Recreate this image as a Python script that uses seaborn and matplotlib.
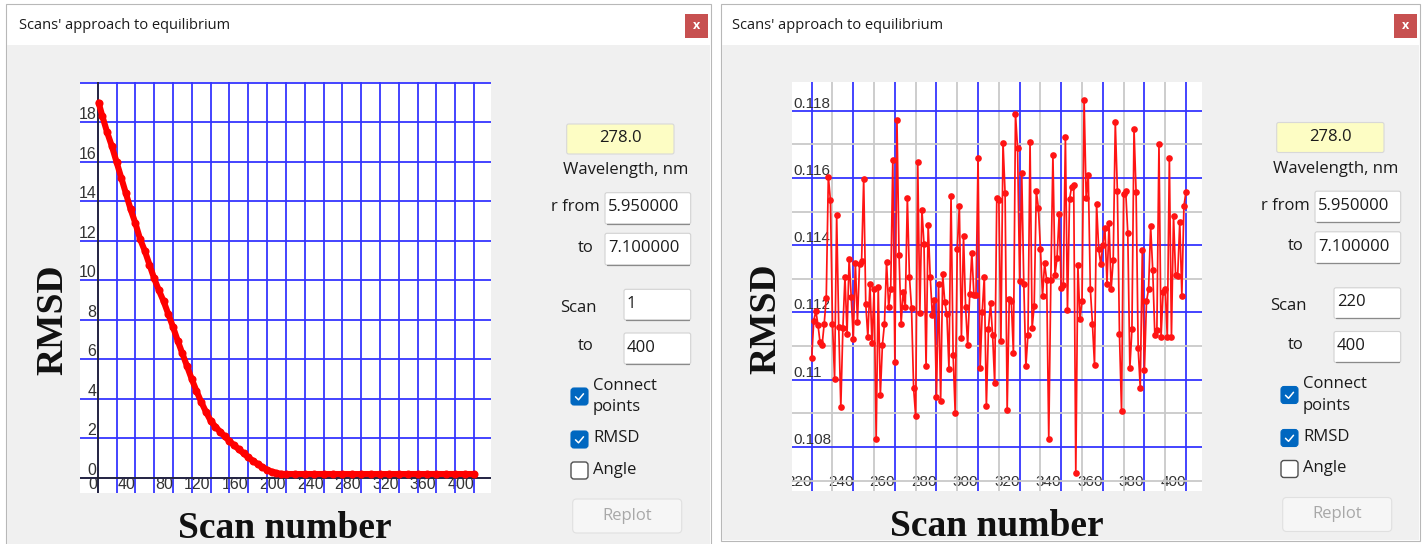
import matplotlib
matplotlib.use("Agg")
import matplotlib.pyplot as plt
from matplotlib.patches import Rectangle, FancyBboxPatch
from matplotlib.lines import Line2D
from matplotlib.transforms import Affine2D
from matplotlib.ticker import FixedLocator
import seaborn as sns

# ---------------- data ----------------
# Left window: scans 1..400
left_scans = [1, 5, 10, 15, 20, 25, 30, 35, 40, 45, 50, 55, 60, 65, 70, 75, 80, 85, 90, 95,
              100, 105, 110, 115, 120, 125, 130, 135, 140, 145, 150, 155, 160, 165, 170, 175,
              180, 185, 190, 195, 200, 210, 220, 230, 240, 250, 260, 270, 280, 290, 300, 310,
              320, 330, 340, 350, 360, 370, 380, 390, 400]
left_rmsd = [19.0, 18.3, 17.5, 16.8, 16.0, 15.2, 14.4, 13.6, 12.9, 12.1, 11.5, 10.8, 10.1, 9.5,
             8.95, 8.3, 7.65, 6.95, 6.3, 5.65, 5.0, 4.4, 3.85, 3.35, 2.9, 2.6, 2.35, 2.1, 1.87,
             1.65, 1.45, 1.25, 1.05, 0.87, 0.7, 0.55, 0.42, 0.32, 0.25, 0.21, 0.2,
             0.2, 0.2, 0.2, 0.2, 0.2, 0.2, 0.2, 0.2, 0.2, 0.2, 0.2, 0.2, 0.2, 0.2, 0.2, 0.2,
             0.2, 0.2, 0.2, 0.2]
left_xticks = [0, 40, 80, 120, 160, 200, 240, 280, 320, 360, 400]
left_xgrid = [20, 60, 100, 140, 180, 220, 260, 300, 340, 380]
left_yticks = [0, 2, 4, 6, 8, 10, 12, 14, 16, 18]
left_ygrid = [20]

# Right window: scans 220..400
right_scans = list(range(220, 401))
right_rmsd = [
    0.11065, 0.11176, 0.11204, 0.11164, 0.11112, 0.11103, 0.11166, 0.11244, 0.11604, 0.11534,
    0.11167, 0.11003, 0.11490, 0.11157, 0.10919, 0.11155, 0.11306, 0.11137, 0.11360, 0.11246,
    0.11122, 0.11346, 0.11172, 0.11344, 0.11354, 0.11596, 0.11225, 0.11127, 0.11284, 0.11108,
    0.11269, 0.10825, 0.11276, 0.10954, 0.11103, 0.11167, 0.11351, 0.11217, 0.11271, 0.11653,
    0.11053, 0.11772,
    0.11370, 0.11167, 0.11261, 0.11217, 0.11541, 0.11306, 0.11214, 0.10976, 0.10891, 0.11646,
    0.11199, 0.11506, 0.11403, 0.11040, 0.11460, 0.11306, 0.11192, 0.11237, 0.10949, 0.11284,
    0.10936, 0.11313, 0.11231, 0.11194, 0.11033, 0.11546, 0.11075, 0.10902, 0.11390, 0.11517,
    0.11125, 0.11428, 0.11217, 0.11103, 0.11256, 0.11377, 0.11253, 0.11251, 0.11660, 0.11035,
    0.11202, 0.11306, 0.10921, 0.11152, 0.11227, 0.11133, 0.10989, 0.11541,
    0.11534, 0.11114, 0.11705, 0.11554, 0.10909, 0.11241, 0.11233, 0.11078, 0.11790, 0.11688,
    0.11293, 0.11615, 0.11284, 0.11040, 0.11134, 0.11708, 0.11154, 0.11220, 0.11561, 0.11512,
    0.11390, 0.11248, 0.11346, 0.11296, 0.10825, 0.11296, 0.11668, 0.11311, 0.11363, 0.11492,
    0.11273, 0.11283, 0.11721, 0.11207, 0.11537, 0.11574, 0.11579, 0.10723, 0.11341, 0.11182,
    0.11233, 0.11832, 0.11539, 0.11609, 0.11269, 0.11167, 0.11045, 0.11522,
    0.11390, 0.11343, 0.11400, 0.11452, 0.11286, 0.11467, 0.11269, 0.11356, 0.11765, 0.11561,
    0.11137, 0.10906, 0.11551, 0.11561, 0.11437, 0.11035, 0.11150, 0.11745, 0.11557, 0.11093,
    0.10976, 0.11387, 0.11028, 0.11233, 0.11269, 0.11456, 0.11326, 0.11134, 0.11149, 0.11700,
    0.11127, 0.11261, 0.11271, 0.11127, 0.11660, 0.11127, 0.11487, 0.11311, 0.11309, 0.11470,
    0.11250, 0.11516, 0.11559]
right_xticks = [220, 240, 260, 280, 300, 320, 340, 360, 380, 400]
right_xgrid = [230, 250, 270, 290, 310, 330, 350, 370, 390]
right_yticks = [0.108, 0.110, 0.112, 0.114, 0.116, 0.118]
right_yticklabels = ["0.108", "0.11", "0.112", "0.114", "0.116", "0.118"]
right_ygrid = [0.107, 0.109, 0.111, 0.113, 0.115, 0.117]

window_title = "Scans' approach to equilibrium"
wavelength = "278.0"
r_from, r_to = "5.950000", "7.100000"
left_scan_range = ("1", "400")
right_scan_range = ("220", "400")

# ---------------- style ----------------
sns.set_theme(style="white")
plt.rcParams["font.family"] = ["Liberation Sans", "DejaVu Sans"]

W, H = 1426, 544
fig = plt.figure(figsize=(W / 100, H / 100), dpi=100)
fig.patch.set_facecolor("white")
PX = Affine2D().scale(1 / W, -1 / H).translate(0, 1) + fig.transFigure

BLUE = "#3535ff"
GRAY = "#c9c9c9"
UI_FONT = ["Open Sans", "DejaVu Sans"]
TXT = "#1b1b1b"


def fr(x0, y0, x1, y1):
    return [x0 / W, 1 - y1 / H, (x1 - x0) / W, (y1 - y0) / H]


def box(x0, y0, x1, y1, fc, ec="none", lw=0.8, r=0, z=-5):
    if r:
        p = FancyBboxPatch((x0, y0), x1 - x0, y1 - y0,
                           boxstyle=f"round,pad=0,rounding_size={r}",
                           fc=fc, ec=ec, lw=lw, transform=PX, zorder=z)
    else:
        p = Rectangle((x0, y0), x1 - x0, y1 - y0, fc=fc, ec=ec, lw=lw,
                      transform=PX, zorder=z)
    fig.add_artist(p)


def line(xs, ys, color, lw=1.0, z=-4):
    fig.add_artist(Line2D(xs, ys, color=color, lw=lw, transform=PX, zorder=z,
                          solid_capstyle="round", solid_joinstyle="round"))


def ptext(x, y, s, size=12, ha="left", va="center", color=TXT, family=UI_FONT, **kw):
    fig.text(x, y, s, transform=PX, ha=ha, va=va, fontsize=size, color=color,
             family=family, **kw)


# ---------------- windows ----------------
for (x0, x1, yb, tx) in [(6, 711, 548, 19), (721, 1420, 541, 732)]:
    box(x0, 4, x1, yb, "white", "#b8b8b8", lw=0.8, z=-20)
    box(x0 + 1, 45, x1 - 1, yb - 0.8, "#f0f0f0", "none", z=-19)
    ptext(tx, 25.5, window_title, size=10.5)
    box(x1 - 26, 14, x1 - 3, 38, "#c75050", "none", z=-5)
    ptext(x1 - 14.5, 25.5, "x", size=9, ha="center", color="white", weight="bold")


def entry(x0, y0, x1, y1, s):
    box(x0, y0, x1, y1, "white", "#d2d2d2", lw=0.8, r=2)
    line([x0 + 1.5, x1 - 1.5], [y1 - 0.3, y1 - 0.3], "#8a8a8a", lw=0.9)
    ptext(x0 + 3, (y0 + y1) / 2 - 1, s, size=12)


def checkbox(x0, y0, checked, label_lines):
    x1, y1 = x0 + 17, y0 + 17
    if checked:
        box(x0, y0, x1, y1, "#0067c0", "#0067c0", lw=0.8, r=3)
        line([x0 + 4.5, x0 + 7.5, x0 + 12.5], [y0 + 8.8, y0 + 11.8, y0 + 5.8], "white", lw=1.1, z=-3)
    else:
        box(x0, y0, x1, y1, "white", "#505050", lw=1.0, r=3)
    for i, s in enumerate(label_lines):
        ptext(x0 + 22, y0 + 7.5 - (len(label_lines) - 1) * 10 + i * 21.5, s, size=12)


def controls(dx, dy, scans):
    X = lambda v: v + dx
    Y = lambda v: v + dy
    box(X(566.7), Y(124), X(674), Y(154), "#fdfdc4", "#d8d8d8", lw=0.8, r=2)
    ptext(X(620.3), Y(138.5), wavelength, ha="center")
    ptext(X(626), Y(170.5), "Wavelength, nm", ha="center")
    ptext(X(600), Y(207), "r from", ha="right")
    entry(X(605), Y(192.7), X(690.7), Y(224), r_from)
    ptext(X(586), Y(248), "to", ha="center")
    entry(X(605), Y(233.3), X(690.7), Y(265), r_to)
    ptext(X(578.5), Y(308), "Scan", ha="center")
    entry(X(624), Y(289.3), X(690.7), Y(320), scans[0])
    ptext(X(586), Y(346.5), "to", ha="center")
    entry(X(624), Y(333), X(690.7), Y(364), scans[1])
    checkbox(X(571), Y(388), True, ["Connect", "points"])
    checkbox(X(571), Y(431), True, ["RMSD"])
    checkbox(X(571), Y(462), False, ["Angle"])
    box(X(572.7), Y(499), X(681.7), Y(533), "#f6f6f6", "#e0e0e0", lw=0.8, r=4)
    ptext(X(627), Y(515.5), "Replot", ha="center", color="#a8a8a8")


controls(0, 0, left_scan_range)
controls(710, -1.5, right_scan_range)

LABEL_FONT = dict(family=["Liberation Serif", "DejaVu Serif"], weight="bold", size=27, color="#111111")

# ---------------- left plot ----------------
ax1 = fig.add_axes(fr(80, 82, 491, 493))
ax1.set_facecolor("white")
sns.lineplot(x=left_scans, y=left_rmsd, ax=ax1, color="#ff0000", linewidth=4.4,
             marker="o", markersize=5.8, markeredgewidth=0, zorder=5)
ax1.set_xlim(-18.8, 418)
ax1.set_ylim(-0.76, 20.04)
ax1.set_xticks(left_xticks)
ax1.set_xticklabels([str(v) for v in left_xticks])
ax1.xaxis.set_minor_locator(FixedLocator(left_xgrid))
ax1.set_yticks(left_yticks)
ax1.set_yticklabels([str(v) for v in left_yticks])
ax1.yaxis.set_minor_locator(FixedLocator(left_ygrid))
ax1.set_axisbelow(True)
ax1.grid(which="both", color=BLUE, lw=1.3)
ax1.axvline(0, color="#222222", lw=1.2, zorder=3)
ax1.axhline(0, color="#222222", lw=1.2, zorder=3)
for s in ax1.spines.values():
    s.set_visible(False)
ax1.tick_params(which="both", length=0)
ax1.tick_params(axis="x", pad=-11.5, labelsize=11.5, labelcolor="#333333")
ax1.tick_params(axis="y", pad=-11.8, labelsize=11.5, labelcolor="#333333")
for lab in ax1.get_xticklabels():
    lab.set_ha("right")
    lab.set_clip_path(ax1.patch)
for lab in ax1.get_yticklabels():
    lab.set_va("bottom")
ax1.set_ylabel("RMSD", **LABEL_FONT)
ax1.yaxis.set_label_coords(-0.024, 0.421)
ax1.set_xlabel("Scan number", **LABEL_FONT)
ax1.xaxis.set_label_coords(0.4988, -0.044)

# ---------------- right plot ----------------
ax2 = fig.add_axes(fr(791.7, 81.7, 1201.7, 490.7))
ax2.set_facecolor("white")
sns.lineplot(x=right_scans, y=right_rmsd, ax=ax2, color="#ff1414", linewidth=1.25,
             marker="o", markersize=4.8, markeredgewidth=0, zorder=5)
ax2.set_xlim(210.38, 407.55)
ax2.set_ylim(0.10670, 0.118862)
ax2.set_xticks(right_xticks)
ax2.set_xticklabels([str(v) for v in right_xticks])
ax2.xaxis.set_minor_locator(FixedLocator(right_xgrid))
ax2.set_yticks(right_yticks)
ax2.set_yticklabels(right_yticklabels)
ax2.yaxis.set_minor_locator(FixedLocator(right_ygrid))
ax2.set_axisbelow(True)
ax2.grid(which="minor", color=GRAY, lw=1.3)
ax2.grid(which="major", color=BLUE, lw=1.3)
for s in ax2.spines.values():
    s.set_visible(False)
ax2.tick_params(which="both", length=0)
ax2.tick_params(axis="x", pad=-11.6, labelsize=11, labelcolor="#333333")
ax2.tick_params(axis="y", pad=-1, labelsize=11, labelcolor="#333333")
for lab in ax2.get_xticklabels():
    lab.set_ha("right")
    lab.set_clip_path(ax2.patch)
for lab in ax2.get_yticklabels():
    lab.set_ha("left")
    lab.set_va("bottom")
ax2.set_ylabel("RMSD", **LABEL_FONT)
ax2.yaxis.set_label_coords(-0.021, 0.421)
ax2.set_xlabel("Scan number", **LABEL_FONT)
ax2.xaxis.set_label_coords(0.5007, -0.044)

fig.savefig("out.png", dpi=100, facecolor=fig.get_facecolor())
